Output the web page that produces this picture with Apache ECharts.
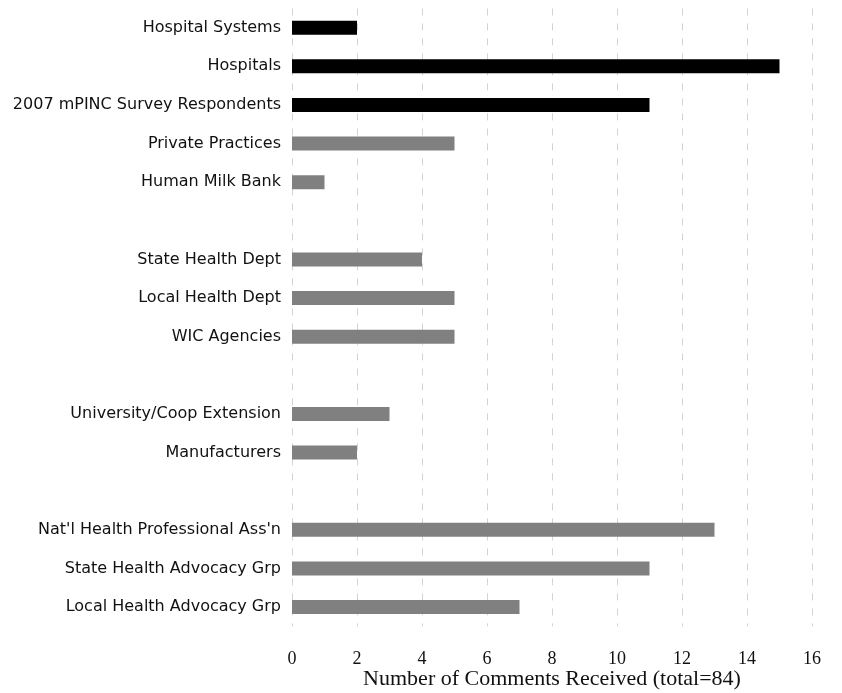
<!DOCTYPE html>
<html>
<head>
<meta charset="utf-8">
<script src="https://cdn.jsdelivr.net/npm/echarts@6/dist/echarts.min.js"></script>
<style>
html,body{margin:0;padding:0;background:#fff;}
#chart{width:842px;height:693px;}
</style>
</head>
<body>
<div id="chart"></div>
<script>
// Categories (blank entries are spacer rows)
var categories = [
  "Hospital Systems",
  "Hospitals",
  "2007 mPINC Survey Respondents",
  "Private Practices",
  "Human Milk Bank",
  " ",
  "State Health Dept",
  "Local Health Dept",
  "WIC Agencies",
  "  ",
  "University/Coop Extension",
  "Manufacturers",
  "   ",
  "Nat'l Health Professional Ass'n",
  "State Health Advocacy Grp",
  "Local Health Advocacy Grp"
];
var values = [2, 15, 11, 5, 1, null, 4, 5, 5, null, 3, 2, null, 13, 11, 7];
// group: 1 = black (hospital group), 0 = gray
var groups = [1, 1, 1, 0, 0, 0, 0, 0, 0, 0, 0, 0, 0, 0, 0, 0];
var groupColors = ["#808080", "#000000"];
var xTicks = [0, 2, 4, 6, 8, 10, 12, 14, 16];
var axisTitle = "Number of Comments Received (total=84)";

var data = values.map(function (v, i) {
  return { value: v, itemStyle: { color: groupColors[groups[i]] } };
});

var chart = echarts.init(document.getElementById('chart'));
chart.setOption({
  animation: false,
  backgroundColor: '#ffffff',
  grid: { left: 292, top: 8.4, width: 520, height: 618, containLabel: false, outerBoundsMode: 'none' },
  xAxis: {
    type: 'value',
    min: xTicks[0],
    max: xTicks[xTicks.length - 1],
    interval: 2,
    name: axisTitle,
    nameLocation: 'middle',
    nameGap: 42,
    nameMoveOverlap: false,
    nameTextStyle: { fontFamily: 'Liberation Serif', fontSize: 22, color: '#111' },
    axisLine: { show: false },
    axisTick: { show: false },
    axisLabel: { margin: 24, fontFamily: 'Liberation Serif', fontSize: 18, color: '#111' },
    splitLine: { show: true, lineStyle: { color: '#d3d3d3', width: 1, type: [7, 8] } }
  },
  yAxis: {
    type: 'category',
    inverse: true,
    data: categories,
    axisLine: { show: false },
    axisTick: { show: false },
    axisLabel: { margin: 11, fontFamily: 'DejaVu Sans', fontSize: 16, color: '#111' },
    splitLine: { show: false }
  },
  series: [{
    type: 'bar',
    data: data,
    barWidth: 14,
    silent: true
  }]
});
</script>
</body>
</html>
